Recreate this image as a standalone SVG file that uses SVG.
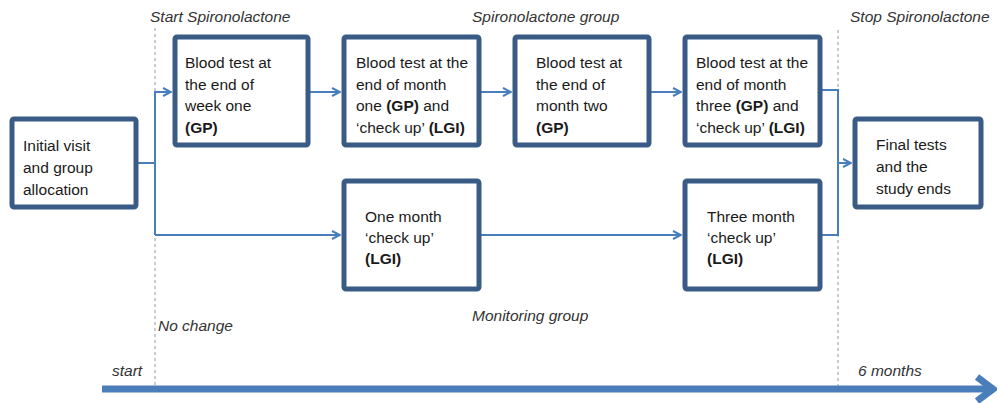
<svg xmlns="http://www.w3.org/2000/svg" width="999" height="403" viewBox="0 0 999 403">
  <style>
    .box { fill: #ffffff; stroke: #3a5b86; stroke-width: 5; }
    .t { font-family: "Liberation Sans", "DejaVu Sans", sans-serif; font-size: 15.5px; fill: #1a1a1a; }
    .b { font-weight: bold; }
    .lab { font-family: "Liberation Sans", "DejaVu Sans", sans-serif; font-size: 15.5px; font-style: italic; fill: #333333; }
    .conn { fill: none; stroke: #4a7ebb; stroke-width: 2; }
    .guide { fill: none; stroke: #8c9aa8; stroke-width: 1; stroke-dasharray: 3 3; }
  </style>
  <defs>
    <marker id="chev" viewBox="0 0 10 10" refX="9" refY="5" markerWidth="10" markerHeight="10" markerUnits="userSpaceOnUse" orient="auto">
      <path d="M1,1 L9,5 L1,9" fill="none" stroke="#4a7ebb" stroke-width="2"/>
    </marker>
    <marker id="bigchev" viewBox="0 0 24 32" refX="21" refY="16" markerWidth="24" markerHeight="32" markerUnits="userSpaceOnUse" orient="auto">
      <path d="M4,4 L20,16 L4,28" fill="none" stroke="#4a7ebb" stroke-width="7" stroke-linejoin="miter"/>
    </marker>
  </defs>

  <!-- timeline guides -->
  <g id="guides">
    <line class="guide" x1="155" y1="28" x2="155" y2="386"/>
    <line class="guide" x1="838" y1="30" x2="838" y2="386"/>
  </g>

  <!-- annotations -->
  <g id="labels">
    <text class="lab" x="150" y="22">Start Spironolactone</text>
    <text class="lab" x="472" y="22">Spironolactone group</text>
    <text class="lab" x="850" y="22">Stop Spironolactone</text>
    <text class="lab" x="158" y="331">No change</text>
    <text class="lab" x="472" y="321">Monitoring group</text>
    <text class="lab" x="112" y="376">start</text>
    <text class="lab" x="858" y="376">6 months</text>
  </g>

  <!-- connectors -->
  <g id="connectors">
    <path class="conn" d="M138,163 H155"/>
    <path class="conn" d="M155,235 V92 H171" marker-end="url(#chev)"/>
    <path class="conn" d="M155,235 H340" marker-end="url(#chev)"/>
    <path class="conn" d="M310,92 H340" marker-end="url(#chev)"/>
    <path class="conn" d="M481,92 H511" marker-end="url(#chev)"/>
    <path class="conn" d="M651,92 H681" marker-end="url(#chev)"/>
    <path class="conn" d="M481,235 H681" marker-end="url(#chev)"/>
    <path class="conn" d="M822,90 H838 V163 H851" marker-end="url(#chev)"/>
    <path class="conn" d="M822,235 H838 V163"/>
    <path d="M102,389 H994" fill="none" stroke="#4a7ebb" stroke-width="7" marker-end="url(#bigchev)"/>
  </g>

  <g id="initial">
    <rect class="box" x="12" y="119" width="124" height="88" rx="2"/>
    <text class="t" x="23" y="151">Initial visit</text>
    <text class="t" x="23" y="173">and group</text>
    <text class="t" x="23" y="195">allocation</text>
  </g>

  <g id="week1">
    <rect class="box" x="175" y="37" width="133" height="108" rx="2"/>
    <text class="t" x="185" y="68">Blood test at</text>
    <text class="t" x="185" y="90">the end of</text>
    <text class="t" x="185" y="111">week one</text>
    <text class="t b" x="185" y="133">(GP)</text>
  </g>

  <g id="month1">
    <rect class="box" x="344" y="37" width="135" height="108" rx="2"/>
    <text class="t" x="356" y="68">Blood test at the</text>
    <text class="t" x="356" y="90">end of month</text>
    <text class="t" x="356" y="111">one <tspan class="b">(GP)</tspan> and</text>
    <text class="t" x="356" y="133">‘check up’ <tspan class="b">(LGI)</tspan></text>
  </g>

  <g id="month2">
    <rect class="box" x="515" y="37" width="134" height="108" rx="2"/>
    <text class="t" x="536" y="68">Blood test at</text>
    <text class="t" x="536" y="90">the end of</text>
    <text class="t" x="536" y="111">month two</text>
    <text class="t b" x="536" y="133">(GP)</text>
  </g>

  <g id="month3">
    <rect class="box" x="685" y="37" width="135" height="108" rx="2"/>
    <text class="t" x="696" y="68">Blood test at the</text>
    <text class="t" x="696" y="90">end of month</text>
    <text class="t" x="696" y="111">three <tspan class="b">(GP)</tspan> and</text>
    <text class="t" x="696" y="133">‘check up’ <tspan class="b">(LGI)</tspan></text>
  </g>

  <g id="final">
    <rect class="box" x="855" y="119" width="126" height="88" rx="2"/>
    <text class="t" x="876" y="150">Final tests</text>
    <text class="t" x="876" y="172">and the</text>
    <text class="t" x="876" y="194">study ends</text>
  </g>

  <g id="checkup1">
    <rect class="box" x="344" y="181" width="135" height="108" rx="2"/>
    <text class="t" x="365" y="222">One month</text>
    <text class="t" x="365" y="243">‘check up’</text>
    <text class="t b" x="365" y="264">(LGI)</text>
  </g>

  <g id="checkup3">
    <rect class="box" x="685" y="181" width="135" height="108" rx="2"/>
    <text class="t" x="707" y="222">Three month</text>
    <text class="t" x="707" y="243">‘check up’</text>
    <text class="t b" x="707" y="264">(LGI)</text>
  </g>
</svg>
